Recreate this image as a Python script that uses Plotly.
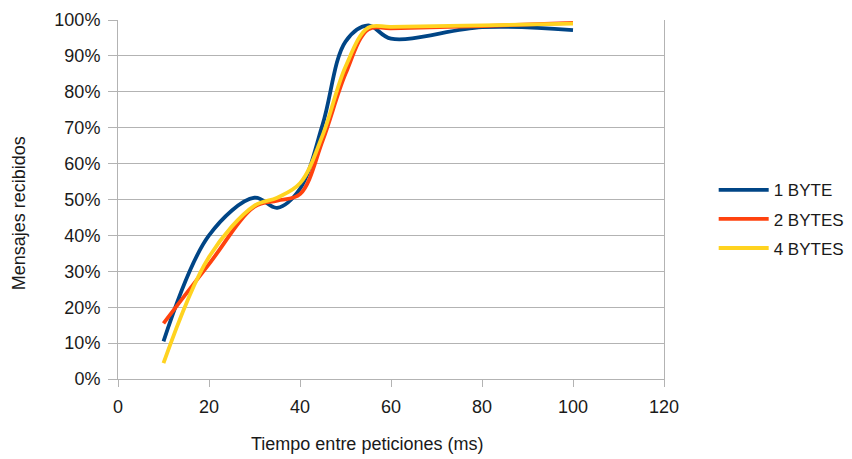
import plotly.graph_objects as go

# ── datos ─────────────────────────────────────────────────────────────────────
tiempo = [10, 20, 30, 35, 40, 45, 50, 55, 60, 80, 100]
byte_1 = [0.105, 0.40, 0.505, 0.477, 0.53, 0.71, 0.94, 0.985, 0.948, 0.98, 0.972]
bytes_2 = [0.155, 0.32, 0.48, 0.497, 0.515, 0.665, 0.85, 0.974, 0.977, 0.983, 0.992]
bytes_4 = [0.044, 0.34, 0.483, 0.505, 0.545, 0.68, 0.87, 0.979, 0.981, 0.985, 0.99]

series = [
    ("1 BYTE", byte_1, "#004586"),
    ("2 BYTES", bytes_2, "#ff420e"),
    ("4 BYTES", bytes_4, "#ffd320"),
]

FONT = "Liberation Sans, Arial, sans-serif"
TEXT = "#1a1a1a"
GRID = "#b3b3b3"

fig = go.Figure()
for name, vals, color in series:
    fig.add_trace(go.Scatter(
        x=tiempo, y=vals, name=name, mode="lines", legendgroup=name,
        line=dict(color=color, width=3.8, shape="spline", smoothing=1.0),
    ))

fig.update_layout(
    width=852, height=459,
    paper_bgcolor="white", plot_bgcolor="white",
    margin=dict(l=110, r=196, t=12, b=88, autoexpand=False),
    font=dict(family=FONT, size=18, color=TEXT),
    showlegend=True,
    legend=dict(x=1.091, y=0.445, xanchor="left", yanchor="middle",
                font=dict(size=17, color=TEXT), tracegroupgap=4,
                itemwidth=50, bgcolor="rgba(0,0,0,0)"),
)
fig.update_xaxes(
    range=[0, 120], dtick=20, showgrid=False, zeroline=False,
    showline=True, linecolor=GRID, linewidth=1,
    ticks="outside", ticklen=7, tickcolor=GRID, ticklabelstandoff=4,
)
fig.update_yaxes(
    range=[0, 1], dtick=0.1, tickformat=".0%",
    showgrid=True, gridcolor=GRID, gridwidth=1, zeroline=False,
    showline=True, linecolor=GRID, linewidth=1, mirror=True,
    ticks="outside", ticklen=9, tickcolor=GRID, ticklabelstandoff=4,
)
fig.add_annotation(text="Tiempo entre peticiones (ms)", xref="paper", yref="paper",
                   x=0.456, y=-0.181, xanchor="center", yanchor="middle",
                   showarrow=False, font=dict(size=18, color=TEXT))
fig.add_annotation(text="Mensajes recibidos", xref="paper", yref="paper",
                   x=-0.181, y=0.462, textangle=-90, xanchor="center", yanchor="middle",
                   showarrow=False, font=dict(size=18, color=TEXT))

fig.write_html("out.html")
